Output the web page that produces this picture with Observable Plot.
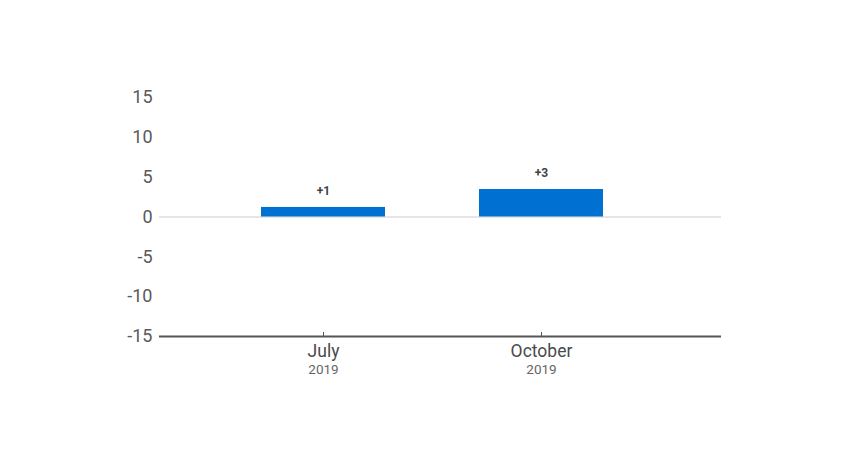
<!DOCTYPE html>
<html>
<head>
<meta charset="utf-8">
<script src="https://cdn.jsdelivr.net/npm/d3@7"></script>
<script src="https://cdn.jsdelivr.net/npm/@observablehq/plot@0.6"></script>
<style>
  html, body { margin: 0; padding: 0; background: #fff; }
  #chart { width: 848px; height: 450px; }
  svg { font-family: Roboto, "Noto Sans", sans-serif; }
</style>
</head>
<body>
<div id="chart"></div>
<script>
const categories = ["July", "October"];
const years = ["2019", "2019"];
const values = [1.2, 3.45];
const valueLabels = ["+1", "+3"];
const yTicks = [-15, -10, -5, 0, 5, 10, 15];

const data = categories.map((c, i) => ({ cat: c, year: years[i], value: values[i], label: valueLabels[i] }));

const chart = Plot.plot({
  width: 848,
  height: 450,
  marginLeft: 159,
  marginRight: 127,
  marginTop: 97,
  marginBottom: 114,
  style: { fontFamily: "Roboto, 'Noto Sans', sans-serif", background: "#fff" },
  x: { type: "band", domain: categories, range: [214, 650], paddingInner: 0.431, paddingOuter: 0.2155 },
  y: { domain: [-15, 15] },
  marks: [
    Plot.ruleY([0], { stroke: "#cccccc", strokeWidth: 1 }),
    Plot.barY(data, { x: "cat", y: "value", fill: "#0070d2" }),
    Plot.text(data, { x: "cat", y: "value", text: "label", dy: -16, fontSize: 12, fontWeight: "bold", fill: "#444" }),
    Plot.ruleY([-15], { stroke: "#555", strokeWidth: 2 }),
    Plot.axisY({ ticks: yTicks, tickSize: 0, tickPadding: 7, fontSize: 18, color: "#5a5a5a", label: null, tickFormat: d => String(d) }),
    Plot.axisX({ tickSize: -4, tickPadding: 12, fontSize: 17.5, color: "#4a4a4a", stroke: "#555", label: null }),
    Plot.axisX({ tickSize: 0, tickPadding: 28, fontSize: 13.5, color: "#666", label: null, tickFormat: (d) => years[categories.indexOf(d)] })
  ]
});
document.getElementById("chart").appendChild(chart);
</script>
</body>
</html>
